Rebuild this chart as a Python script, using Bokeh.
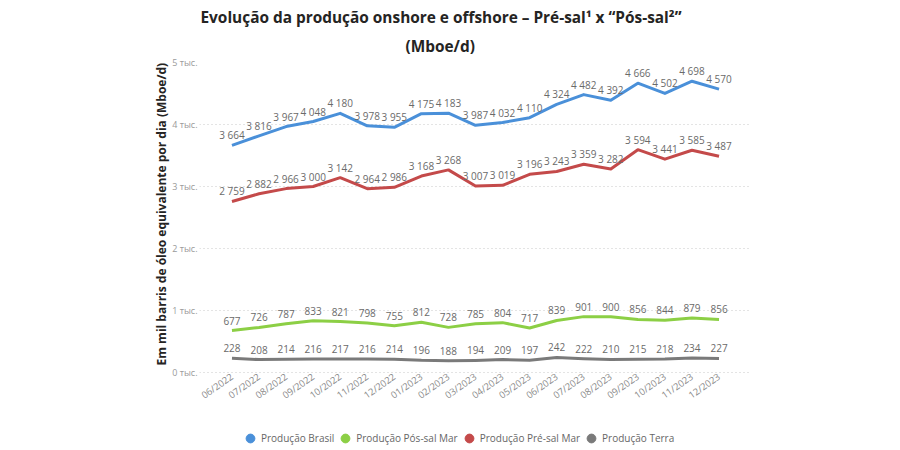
import math
from bokeh.plotting import figure
from bokeh.models import FactorRange, Range1d, FixedTicker, Title, Legend, LegendItem
from bokeh.core.properties import value
from bokeh.embed import file_html
from bokeh.resources import INLINE

months = ["06/2022", "07/2022", "08/2022", "09/2022", "10/2022", "11/2022", "12/2022",
          "01/2023", "02/2023", "03/2023", "04/2023", "05/2023", "06/2023", "07/2023",
          "08/2023", "09/2023", "10/2023", "11/2023", "12/2023"]
brasil = [3664, 3816, 3967, 4048, 4180, 3978, 3955, 4175, 4183, 3987, 4032, 4110, 4324, 4482,
          4392, 4666, 4502, 4698, 4570]
pos_sal = [677, 726, 787, 833, 821, 798, 755, 812, 728, 785, 804, 717, 839, 901, 900, 856, 844,
           879, 856]
pre_sal = [2759, 2882, 2966, 3000, 3142, 2964, 2986, 3168, 3268, 3007, 3019, 3196, 3243, 3359,
           3282, 3594, 3441, 3585, 3487]
terra = [228, 208, 214, 216, 217, 216, 214, 196, 188, 194, 209, 197, 242, 222, 210, 215, 218,
         234, 227]
y_ticks = [0, 1000, 2000, 3000, 4000, 5000]
y_tick_labels = ["0 тыс.", "1 тыс.", "2 тыс.", "3 тыс.", "4 тыс.", "5 тыс."]
series_names = ["Produção Brasil", "Produção Pós-sal Mar", "Produção Pré-sal Mar", "Produção Terra"]
title_lines = ["Evolução da produção onshore e offshore – Pré-sal¹ x “Pós-sal²”", "(Mboe/d)"]
y_title = "Em mil barris de óleo equivalente por dia (Mboe/d)"

colors = ["#4A90D9", "#8CCF45", "#C44A4A", "#7A7A7A"]
FONT = "Open Sans"
W, H = 896, 450
CAT_PX = 27.05               # width of one month slot
PAD = 0.7                    # extra slots each side so the first rotated label is not cut
pad_px = PAD * CAT_PX
BL = round(218 - pad_px)
FW = round(19 * CAT_PX + 2 * pad_px)
BR = W - BL - FW
BT = 62
PLOT_H = 310                 # pixels between the 0 and 5 тыс. gridlines
YMAX = 5000
below_px = H - BT - PLOT_H   # room under the 0 line for tick labels and legend
YMIN = -below_px * YMAX / PLOT_H

p = figure(width=W, height=H,
           x_range=FactorRange(*months, range_padding=PAD, range_padding_units="absolute"),
           y_range=Range1d(YMIN, YMAX), output_backend="svg", toolbar_location=None,
           min_border_left=BL, min_border_right=BR, min_border_top=BT, min_border_bottom=0)
p.outline_line_color = None
p.background_fill_color = "white"
p.border_fill_color = "white"
p.xgrid.grid_line_color = None
p.ygrid.grid_line_color = "#C8C8C8"
p.ygrid.grid_line_dash = "1 3"
p.ygrid.ticker = FixedTicker(ticks=y_ticks)

ya = p.yaxis[0]
ya.ticker = FixedTicker(ticks=y_ticks)
ya.major_label_overrides = dict(zip(y_ticks, y_tick_labels))
ya.axis_line_color = None
ya.major_tick_line_color = None
ya.minor_tick_line_color = None
ya.major_tick_out = 0
ya.major_tick_in = 0
ya.minor_tick_out = 0
ya.major_label_text_font_size = "9px"
ya.major_label_text_color = "#9A9A9A"
ya.major_label_text_font = FONT
ya.major_label_standoff = 2

xa = p.xaxis[0]
xa.fixed_location = 0
xa.major_label_orientation = math.radians(35)
xa.axis_line_color = None
xa.major_tick_line_color = None
xa.minor_tick_line_color = None
xa.major_tick_out = 0
xa.major_tick_in = 0
xa.minor_tick_out = 0
xa.major_label_text_font_size = "9.5px"
xa.major_label_text_color = "#8A8A8A"
xa.major_label_text_font = FONT
xa.major_label_standoff = 3

series = [brasil, pos_sal, pre_sal, terra]
items = []
for name, vals, col in zip(series_names, series, colors):
    p.line(months, vals, line_width=3, line_color=col, line_join="round")
    labels = [f"{v:,}".replace(",", " ") for v in vals]
    p.text(months, vals, text=labels, text_align="center", text_baseline="middle",
           y_offset=-10, text_font_size="10px", text_color="#6A6A6A",
           text_font=value(FONT))
    r = p.scatter(x=[months[0]], y=[float("nan")], marker="circle", size=9,
                  fill_color=col, line_color=col)
    items.append(LegendItem(label=name, renderers=[r]))

legend = Legend(items=items, orientation="horizontal", location=(round(40 + 218 - BL - 19), 1),
                label_text_font_size="10px", label_text_color="#666666",
                label_text_font=FONT, glyph_width=22, glyph_height=22,
                label_standoff=0, spacing=0, padding=0, margin=0,
                border_line_color=None, background_fill_alpha=0)
p.add_layout(legend)

# y-axis title, placed as a side title so it is centred on the 0..5 тыс. span
p.add_layout(Title(text=y_title, align="left", offset=below_px + 7,
                   text_font=FONT, text_font_style="bold", text_font_size="12px",
                   text_color="#252423", standoff=0), "left")

title_specs = [(title_lines[1], 405 - BL, 12), (title_lines[0], 200 - BL, 0)]
for line_text, off, standoff in title_specs:
    p.add_layout(Title(text=line_text, align="left", offset=off,
                       text_font=FONT, text_font_style="bold", text_font_size="15.4px",
                       text_color="#252423", standoff=standoff), "above")

open("out.html", "w").write(file_html(p, INLINE))
